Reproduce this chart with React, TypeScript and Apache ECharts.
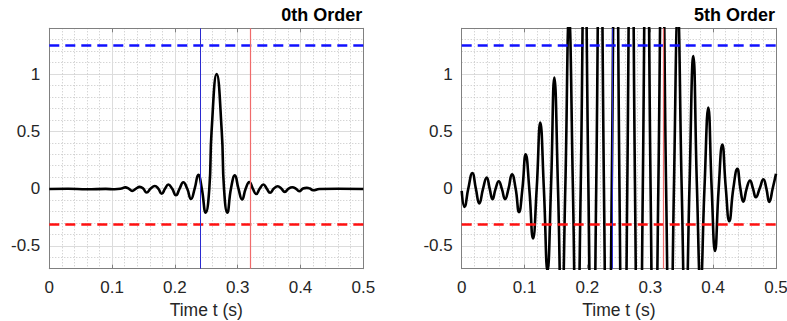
import React, { useEffect, useRef } from 'react';
import * as echarts from 'echarts';

// ---------- data ----------
const panelTitles = ['0th Order', '5th Order'];
const xAxisName = 'Time t (s)';
const timeRange = [0, 0.5];
const ampRange = [-0.7, 1.4];
const thresholdLevels = [1.25, -0.31]; // blue dashed, red dashed
const cursorTimes = [0.239, 0.32]; // blue, red vertical cursors

// 0th order response: [time (s), amplitude]
const order0: [number, number][] = [
  [0, -0.004], [0.03, -0.002], [0.06, -0.006], [0.09, -0.003], [0.104, -0.006],
  [0.115, 0.0], [0.121, 0.01], [0.1265, 0.0], [0.132, -0.02], [0.138, 0.0],
  [0.144, 0.015], [0.1495, 0.0], [0.155, -0.035], [0.1615, 0.0], [0.168, 0.022],
  [0.1735, 0.0], [0.179, -0.045], [0.1845, 0.0], [0.1895, 0.035], [0.1955, 0.0],
  [0.2017, -0.058], [0.2075, 0.0], [0.2134, 0.055], [0.2195, 0.0], [0.2256, -0.09],
  [0.2315, 0.0], [0.2373, 0.12], [0.2428, 0.0], [0.249, -0.21], [0.2548, 0.0],
  [0.2584, 0.5], [0.2665, 1.0], [0.2746, 0.5], [0.2782, 0.0], [0.2835, -0.21],
  [0.2893, 0.0], [0.2955, 0.115], [0.3012, 0.0], [0.307, -0.096], [0.3128, 0.0],
  [0.3185, 0.058], [0.324, 0.0], [0.3295, -0.048], [0.3352, 0.0], [0.341, 0.035],
  [0.3462, 0.0], [0.3515, -0.037], [0.3576, 0.0], [0.3637, 0.02], [0.3694, 0.0],
  [0.375, -0.029], [0.381, 0.0], [0.387, 0.011], [0.3925, 0.0], [0.398, -0.023],
  [0.404, 0.0], [0.41, 0.006], [0.415, 0.0], [0.42, -0.015], [0.43, -0.004],
  [0.46, -0.002], [0.5, -0.004],
];

// 5th order response: [time (s), amplitude]
const order5: [number, number][] = [
  [0, -0.02], [0.0045, -0.16], [0.0105, 0.0], [0.017, 0.136], [0.0225, 0.0],
  [0.028, -0.13], [0.034, 0.0], [0.0398, 0.097], [0.0445, 0.0], [0.049, -0.093],
  [0.054, 0.0], [0.059, 0.064], [0.0638, 0.0], [0.069, -0.093], [0.0745, 0.0],
  [0.08, 0.125], [0.0858, 0.0], [0.0912, -0.205], [0.0966, 0.0], [0.1018, 0.3],
  [0.1075, 0.0], [0.1135, -0.436], [0.1193, 0.0], [0.125, 0.577], [0.1307, 0.0],
  [0.1365, -0.72], [0.142, 0.0], [0.1474, 0.97], [0.1532, 0.0], [0.159, -1.2],
  [0.1648, 0.0], [0.1707, 1.5], [0.1769, 0.0], [0.1831, -1.85], [0.1893, 0.0],
  [0.1954, 2.2], [0.2016, 0.0], [0.2078, -2.5], [0.214, 0.0], [0.2201, 2.8],
  [0.2263, 0.0], [0.2325, -3.0], [0.2387, 0.0], [0.2449, 3.2], [0.251, 0.0],
  [0.2572, -3.3], [0.2634, 0.0], [0.2696, 3.2], [0.2757, 0.0], [0.2819, -3.1],
  [0.2881, 0.0], [0.2943, 2.9], [0.3005, 0.0], [0.3066, -2.6], [0.3128, 0.0],
  [0.319, 2.3], [0.3252, 0.0], [0.3314, -2.0], [0.3376, 0.0], [0.3438, 1.55],
  [0.35, 0.0], [0.3561, -1.3], [0.3623, 0.0], [0.3685, 1.157], [0.3743, 0.0],
  [0.38, -0.85], [0.3862, 0.0], [0.3923, 0.707], [0.3977, 0.0], [0.403, -0.545],
  [0.4088, 0.0], [0.4146, 0.385], [0.4202, 0.0], [0.4257, -0.285], [0.4321, 0.0],
  [0.4385, 0.172], [0.4433, 0.0], [0.448, -0.115], [0.4533, 0.0], [0.4587, 0.07],
  [0.4634, 0.0], [0.468, -0.076], [0.474, 0.0], [0.48, 0.082], [0.4847, 0.0],
  [0.4893, -0.117], [0.4947, 0.0], [0.5, 0.13],
];

const seriesData = [order0, order5];

// ---------- styling ----------
const FONT = '"Liberation Sans", Arial, Helvetica, sans-serif';
const FRAME = '#808080';
const MAJOR = '#dcdcdc';
const MINOR = '#c4c4c4';
const NONE = 'rgba(0,0,0,0)';
const TEXT = '#262626';
const DOT = [1, 2];

const GRIDS = [
  { left: 49.3, top: 28.3, width: 314, height: 240.4 },
  { left: 461.7, top: 28.3, width: 314.3, height: 240.4 },
];

function buildOption() {
  const grid: any[] = [];
  const xAxis: any[] = [];
  const yAxis: any[] = [];
  const series: any[] = [];
  const title: any[] = [];

  GRIDS.forEach((g, gi) => {
    grid.push({ ...g, containLabel: false, outerBoundsMode: 'none', show: false });
    title.push({
      text: panelTitles[gi],
      right: 787 - (g.left + g.width) + 1,
      top: 6,
      padding: 0,
      textStyle: { fontFamily: FONT, fontWeight: 'bold', fontSize: 18, color: '#000' },
    });
    // bottom x axis (data)
    xAxis.push({
      type: 'value', gridIndex: gi, position: 'bottom',
      min: timeRange[0], max: timeRange[1], interval: 0.1,
      axisLine: { show: true, onZero: false, lineStyle: { color: FRAME, width: 1 } },
      axisTick: { show: true, inside: true, length: 4, lineStyle: { color: FRAME } },
      axisLabel: {
        show: true, margin: 10, color: TEXT, fontSize: 17, fontFamily: FONT,
        formatter: (v: number) => String(Math.round(v * 10) / 10),
      },
      splitLine: { show: true, lineStyle: { color: MAJOR, width: 1, type: 'solid' } },
      minorTick: { show: false, splitNumber: 5 },
      minorSplitLine: { show: true, lineStyle: { color: MINOR, width: 1, type: DOT } },
      name: xAxisName, nameLocation: 'middle', nameGap: 30,
      nameTextStyle: { fontFamily: FONT, fontSize: 17.5, color: TEXT },
    });
    // top x axis (frame + ticks)
    xAxis.push({
      type: 'value', gridIndex: gi, position: 'top',
      min: timeRange[0], max: timeRange[1], interval: 0.1,
      axisLine: { show: true, onZero: false, lineStyle: { color: FRAME, width: 1 } },
      axisTick: { show: true, inside: true, length: 4, lineStyle: { color: FRAME } },
      axisLabel: { show: false },
      splitLine: { show: false },
    });
    // left y axis (data, minor dotted grid)
    yAxis.push({
      type: 'value', gridIndex: gi, position: 'left',
      min: ampRange[0], max: ampRange[1], interval: 0.1,
      axisLine: { show: true, onZero: false, lineStyle: { color: FRAME, width: 1 } },
      axisTick: { show: false },
      axisLabel: {
        show: true, margin: 9, color: TEXT, fontSize: 17, fontFamily: FONT,
        formatter: (v: number) => {
          const r = Math.round(v * 2) / 2;
          return Math.abs(v - r) < 1e-6 ? String(r) : '';
        },
      },
      splitLine: {
        show: true,
        lineStyle: { color: [MINOR, MINOR, NONE, MINOR, MINOR], width: 1, type: DOT },
      },
    });
    // right y axis (frame + major solid grid)
    yAxis.push({
      type: 'value', gridIndex: gi, position: 'right',
      min: ampRange[0], max: ampRange[1], interval: 0.1,
      axisLine: { show: true, onZero: false, lineStyle: { color: FRAME, width: 1 } },
      axisTick: { show: false },
      axisLabel: { show: false },
      splitLine: {
        show: true,
        lineStyle: { color: [NONE, NONE, MAJOR, NONE, NONE], width: 1, type: 'solid' },
      },
    });

    series.push({
      type: 'line',
      xAxisIndex: gi * 2,
      yAxisIndex: gi * 2,
      data: seriesData[gi],
      showSymbol: false,
      smooth: 0.5,
      clip: true,
      z: 3,
      lineStyle: { color: '#000', width: 2.6 },
      emphasis: { disabled: true },
      markLine: {
        silent: true,
        symbol: 'none',
        animation: false,
        label: { show: false },
        emphasis: { disabled: true },
        data: [
          { yAxis: thresholdLevels[0], lineStyle: { color: '#1010ff', width: 2.5, type: [10, 6] } },
          { yAxis: thresholdLevels[1], lineStyle: { color: '#ff1010', width: 2.5, type: [10, 6] } },
          { xAxis: cursorTimes[0], lineStyle: { color: '#2a2ad0', width: 1, type: 'solid' } },
          { xAxis: cursorTimes[1], lineStyle: { color: '#f06a6a', width: 1.2, type: 'solid' } },
        ],
      },
    });
  });

  return {
    animation: false,
    backgroundColor: '#ffffff',
    title,
    grid,
    xAxis,
    yAxis,
    series,
  };
}

export default function App() {
  const ref = useRef<HTMLDivElement>(null);
  useEffect(() => {
    if (!ref.current) return;
    const chart = echarts.init(ref.current, null, { renderer: 'svg' });
    chart.setOption(buildOption() as any);
    return () => chart.dispose();
  }, []);
  return (
    <div
      ref={ref}
      style={{ position: 'fixed', left: 0, top: 0, width: 787, height: 321, background: '#fff' }}
    />
  );
}
